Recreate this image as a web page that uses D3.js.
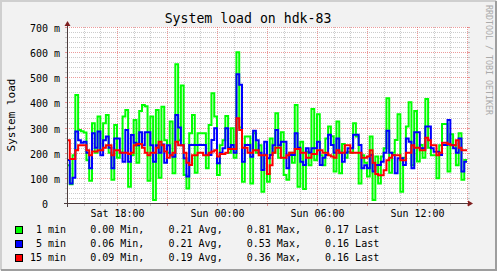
<!DOCTYPE html>
<html>
<head>
<meta charset="utf-8">
<script src="https://cdn.jsdelivr.net/npm/d3@7"></script>
<style>
html, body { margin: 0; padding: 0; background: #f2f2f2; }
text { font-family: "DejaVu Sans Mono", monospace; white-space: pre; }
</style>
</head>
<body>
<div id="chart"></div>
<script>

// load averages, in milli units, one sample every 10 minutes from Sat 15:00
var load1 = [150,75,190,430,290,285,280,170,88,317,200,344,
	210,317,350,200,92,310,180,200,344,370,65,190,
	330,160,366,390,385,88,344,12,370,100,383,250,
	200,324,118,552,250,467,111,58,277,350,120,277,
	277,277,138,310,437,344,111,230,250,346,200,297,
	180,600,300,85,264,264,78,277,200,230,45,191,
	85,257,200,357,180,281,111,92,200,160,390,65,
	244,56,204,150,374,170,353,190,150,257,304,265,
	125,324,118,235,180,204,200,317,264,78,190,160,
	105,264,12,185,78,185,218,417,120,200,251,353,
	45,180,304,401,150,366,165,231,180,414,220,190,
	190,98,230,314,314,125,273,230,150,277,92,171]

var load5 = [171,78,100,284,250,240,244,200,138,277,220,284,
	190,250,264,220,138,257,257,200,164,290,164,270,
	240,230,281,230,281,281,230,164,230,200,233,160,
	230,190,184,350,300,230,178,105,231,231,231,231,
	231,231,191,191,251,297,158,200,218,297,220,231,
	200,512,470,164,231,231,184,287,250,200,131,244,
	178,191,230,290,230,244,244,138,191,191,277,220,
	164,151,218,200,218,218,244,151,180,191,271,231,
	200,257,200,164,200,218,218,271,271,231,138,150,
	138,191,125,151,151,164,200,287,200,191,118,178,
	178,151,257,244,138,281,281,218,218,304,304,218,
	204,204,191,231,231,330,231,218,200,257,125,164]

var load15 = [250,175,175,210,230,230,230,210,190,205,205,210,
	210,220,230,230,190,210,210,200,200,200,195,200,
	230,235,235,220,200,190,200,200,220,244,230,205,
	180,190,200,244,230,230,200,160,151,190,190,200,
	200,190,190,200,205,210,185,195,195,200,215,215,
	215,337,290,220,220,200,200,210,210,190,190,190,
	115,150,200,220,220,180,180,190,200,200,215,215,
	200,200,180,180,195,195,210,210,200,200,190,185,
	180,210,200,200,230,230,200,200,200,200,180,180,
	185,210,160,115,110,110,130,170,180,190,190,190,
	170,170,200,200,230,220,220,210,210,260,250,230,
	230,190,200,240,240,235,230,230,250,220,210,210]

var labels = [" 1 min", " 5 min", "15 min"]
var colors = ["#00ff00", "#0000ff", "#ff0000"]
var mins = [0.00, 0.06, 0.09]
var avgs = [0.21, 0.21, 0.19]
var maxs = [0.81, 0.53, 0.36]
var lasts = [0.17, 0.16, 0.16]

var yTicks = [0, 100, 200, 300, 400, 500, 600, 700]

var chartW = 497, chartH = 271
var plotL = 67, plotR = 467, plotT = 27, plotB = 203

var t0 = new Date(2021, 2, 13, 15, 0)
var t1 = d3.timeHour.offset(t0, 24)

var x = d3.scaleTime().domain([t0, t1]).range([plotL, plotR])
var y = d3.scaleLinear().domain([0, 700]).range([plotB, plotT])

var svg = d3.select("#chart").append("svg")
	.attr("width", chartW)
	.attr("height", chartH)

// background and 3d frame
svg.append("rect").attr("width", chartW).attr("height", chartH).attr("fill", "#f2f2f2")
svg.append("path").attr("d", `M1,${chartH - 1}V1H${chartW - 1}`).attr("fill", "none").attr("stroke", "#cfcfcf").attr("stroke-width", 2)
svg.append("path").attr("d", `M1,${chartH - 1}H${chartW - 1}V1`).attr("fill", "none").attr("stroke", "#9e9e9e").attr("stroke-width", 2)

svg.append("rect")
	.attr("x", plotL).attr("y", plotT)
	.attr("width", plotR - plotL + 1).attr("height", plotB - plotT)
	.attr("fill", "#ffffff")

var minorColor = "rgba(143,143,143,0.45)"
var majorColor = "rgba(222,80,80,0.57)"

var grid = svg.append("g").attr("shape-rendering", "crispEdges")

// horizontal grid
d3.range(20, 701, 20).forEach(function(v) {
	var major = v % 100 == 0
	var yy = Math.round(y(v)) + 0.5
	var c = major ? majorColor : minorColor
	grid.append("line").attr("x1", plotL).attr("x2", plotR + 1).attr("y1", yy).attr("y2", yy)
		.attr("stroke", c).attr("stroke-dasharray", "1,1")
	grid.append("line").attr("x1", plotL - 2).attr("x2", plotL).attr("y1", yy).attr("y2", yy).attr("stroke", c)
	grid.append("line").attr("x1", plotR + 1).attr("x2", plotR + 3).attr("y1", yy).attr("y2", yy).attr("stroke", c)
})

// vertical grid
x.ticks(d3.timeHour.every(1)).forEach(function(d) {
	var xx = Math.round(x(d)) + 0.5
	if (xx <= plotL + 1) return
	var c = (d.getHours() % 3 == 0) ? majorColor : minorColor
	grid.append("line").attr("x1", xx).attr("x2", xx).attr("y1", plotT).attr("y2", plotB)
		.attr("stroke", c).attr("stroke-dasharray", "1,1")
	grid.append("line").attr("x1", xx).attr("x2", xx).attr("y1", plotB).attr("y2", plotB + 3).attr("stroke", c)
})

// data lines
var line = d3.line()
	.x(d => x(d[0]))
	.y(d => y(d[1]))
	.curve(d3.curveStepAfter)

;[load1, load5, load15].forEach(function(values, k) {
	var pts = values.map((v, i) => [d3.timeMinute.offset(t0, i * 10), v])
	pts.push([d3.timeMinute.offset(t0, values.length * 10), values[values.length - 1]])
	svg.append("path")
		.datum(pts)
		.attr("fill", "none")
		.attr("stroke", colors[k])
		.attr("stroke-width", 2)
		.attr("d", line)
})

// axes
var axisColor = "#4c3c3c"
svg.append("line").attr("x1", plotL - 3).attr("x2", plotR + 2).attr("y1", plotB + 0.5).attr("y2", plotB + 0.5)
	.attr("stroke", axisColor).attr("shape-rendering", "crispEdges")
svg.append("line").attr("x1", plotL + 0.5).attr("x2", plotL + 0.5).attr("y1", plotB + 4).attr("y2", plotT - 3)
	.attr("stroke", axisColor).attr("shape-rendering", "crispEdges")
svg.append("path").attr("d", `M${plotR + 1},${plotB - 2.5}L${plotR + 6},${plotB + 0.5}L${plotR + 1},${plotB + 3.5}Z`).attr("fill", "#7f1f1f")
svg.append("path").attr("d", `M${plotL - 2.5},${plotT - 1}L${plotL + 0.5},${plotT - 6}L${plotL + 3.5},${plotT - 1}Z`).attr("fill", "#7f1f1f")

// y tick labels
svg.selectAll(".ytick").data(yTicks).enter().append("text")
	.attr("class", "ytick")
	.attr("x", 30)
	.attr("y", d => Math.round(y(d)) + 4.5)
	.attr("font-size", "10px")
	.attr("fill", "#000")
	.text(d => d == 0 ? "  0  " : `${d} m`)

// x tick labels
svg.selectAll(".xtick").data(x.ticks(d3.timeHour.every(6)).filter(d => x(d) > plotL + 5)).enter().append("text")
	.attr("class", "xtick")
	.attr("x", d => x(d) + 0.5)
	.attr("y", 217)
	.attr("text-anchor", "middle")
	.attr("font-size", "10px")
	.text(d => d3.timeFormat("%a %H:%M")(d))

// title
svg.append("text")
	.attr("x", 248)
	.attr("y", 23)
	.attr("text-anchor", "middle")
	.attr("font-size", "13.2px")
	.text("System load on hdk-83")

// vertical label
svg.append("text")
	.attr("transform", "translate(15,115) rotate(-90)")
	.attr("text-anchor", "middle")
	.attr("font-size", "11px")
	.text("System load")

// watermark
svg.append("text")
	.attr("transform", "translate(486,5) rotate(90)")
	.attr("font-size", "8.3px")
	.attr("fill", "#aaaaaa")
	.text("RRDTOOL / TOBI OETIKER")

// legend
var fmt = d3.format(".2f")
labels.forEach(function(label, k) {
	var base = 233 + k * 14
	svg.append("rect")
		.attr("x", 15.5).attr("y", base - 6.5)
		.attr("width", 7).attr("height", 7)
		.attr("fill", colors[k]).attr("stroke", "#000")
	svg.append("text")
		.attr("x", 30)
		.attr("y", base)
		.attr("font-size", "10px")
		.text(`${label}    ${fmt(mins[k])} Min,    ${fmt(avgs[k])} Avg,    ${fmt(maxs[k])} Max,    ${fmt(lasts[k])} Last`)
})

</script>
</body>
</html>
